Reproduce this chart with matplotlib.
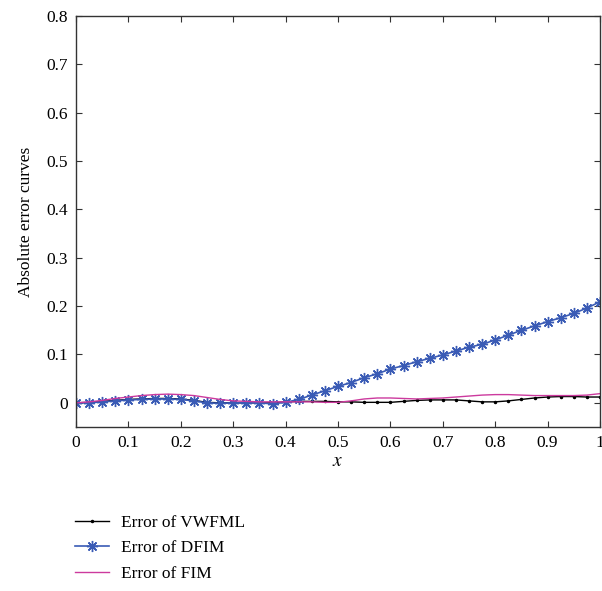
import numpy as np
import matplotlib
matplotlib.use("Agg")
import matplotlib.pyplot as plt

# x grid of the three error curves
x = np.linspace(0, 1, 41)

err_dfim = [0.000, 0.000, 0.002, 0.004, 0.006, 0.007, 0.008, 0.008, 0.007, 0.004,
            0.000, -0.001, 0.000, 0.000, 0.000, -0.002, 0.001, 0.007, 0.016, 0.025,
            0.034, 0.042, 0.052, 0.060, 0.070, 0.077, 0.085, 0.092, 0.099, 0.107,
            0.115, 0.121, 0.130, 0.140, 0.150, 0.159, 0.168, 0.176, 0.185, 0.196,
            0.209]
err_vwfml = [0.000, 0.001, 0.003, 0.005, 0.007, 0.008, 0.009, 0.009, 0.008, 0.005,
             0.001, 0.000, 0.000, 0.000, 0.000, 0.000, 0.002, 0.003, 0.003, 0.003,
             0.002, 0.002, 0.001, 0.001, 0.001, 0.003, 0.005, 0.006, 0.006, 0.006,
             0.004, 0.002, 0.002, 0.004, 0.007, 0.010, 0.012, 0.013, 0.013, 0.012,
             0.012]
err_fim = [0.000, 0.002, 0.005, 0.009, 0.012, 0.015, 0.017, 0.018, 0.017, 0.015,
           0.011, 0.007, 0.004, 0.003, 0.002, 0.002, 0.002, 0.002, 0.002, 0.001,
           0.001, 0.004, 0.008, 0.010, 0.010, 0.009, 0.008, 0.009, 0.010, 0.012,
           0.014, 0.016, 0.017, 0.017, 0.016, 0.015, 0.015, 0.015, 0.015, 0.016,
           0.019]

plt.rcParams['font.family'] = ['Liberation Serif', 'DejaVu Serif']
plt.rcParams['mathtext.fontset'] = 'stix'

fig = plt.figure(figsize=(6.02, 5.91), dpi=100)
ax = fig.add_axes([76/602, 164/591, 524/602, 411/591])

ax.plot(x, err_vwfml, color='black', lw=1.0, marker='.', ms=3, label='Error of VWFML')
ax.plot(x, err_dfim, color='#3a5bb5', lw=1.2, marker=(8, 2, 0), ms=8, mew=1.0,
        label='Error of DFIM')
ax.plot(x, err_fim, color='#cc3a9e', lw=1.0, label='Error of FIM')

ax.set_xlim(0, 1)
ax.set_ylim(-0.05, 0.8)
ax.set_xticks(np.arange(0, 1.01, 0.1))
ax.set_xticklabels(['0', '0.1', '0.2', '0.3', '0.4', '0.5', '0.6', '0.7', '0.8', '0.9', '1'])
ax.set_yticks(np.arange(0, 0.81, 0.1))
ax.set_yticklabels(['0', '0.1', '0.2', '0.3', '0.4', '0.5', '0.6', '0.7', '0.8'])
ax.tick_params(direction='in', top=True, right=True, length=4, labelsize=12.5,
               color='#333333', pad=6)
for s in ax.spines.values():
    s.set_color('#333333')
    s.set_linewidth(1.0)

ax.set_xlabel('$x$', fontsize=14, labelpad=1)
ax.set_ylabel('Absolute error curves', fontsize=12.5, labelpad=9)

fig.legend(loc='upper left', bbox_to_anchor=(0.098, 0.156), frameon=False,
           fontsize=12.5, handlelength=2.0, handletextpad=0.7, labelspacing=0.55)

plt.savefig('out.png', dpi=100)
